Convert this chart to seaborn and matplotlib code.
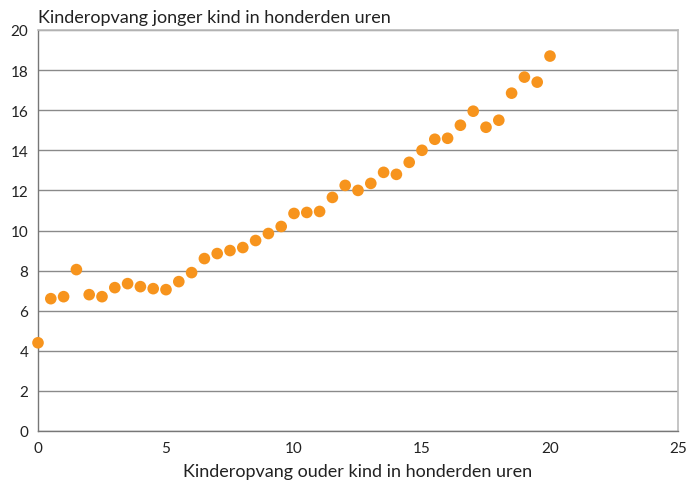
import matplotlib
matplotlib.use("Agg")
import matplotlib.pyplot as plt
import seaborn as sns
import pandas as pd

x_values = [0, 0.5, 1, 1.5, 2, 2.5, 3, 3.5, 4, 4.5, 5, 5.5, 6, 6.5, 7, 7.5, 8, 8.5, 9, 9.5,
            10, 10.5, 11, 11.5, 12, 12.5, 13, 13.5, 14, 14.5, 15, 15.5, 16, 16.5, 17, 17.5,
            18, 18.5, 19, 19.5, 20]
y_values = [4.4, 6.6, 6.7, 8.05, 6.8, 6.7, 7.15, 7.35, 7.2, 7.1, 7.05, 7.45, 7.9, 8.6,
            8.85, 9.0, 9.15, 9.5, 9.85, 10.2, 10.85, 10.9, 10.95, 11.65, 12.25, 12.0, 12.35,
            12.9, 12.8, 13.4, 14.0, 14.55, 14.6, 15.25, 15.95, 15.15, 15.5, 16.85, 17.65,
            17.4, 18.7]
x_ticks = [0, 5, 10, 15, 20, 25]
y_ticks = [0, 2, 4, 6, 8, 10, 12, 14, 16, 18, 20]
title = "Kinderopvang jonger kind in honderden uren"
xlabel = "Kinderopvang ouder kind in honderden uren"

sns.set_style("white")
plt.rcParams['font.family'] = ['Lato', 'DejaVu Sans']

df = pd.DataFrame({"x": x_values, "y": y_values})
fig = plt.figure(figsize=(6.86, 4.85), dpi=100)
ax = fig.add_axes([38/686, 53/485, 640/686, 401/485])
sns.scatterplot(data=df, x="x", y="y", ax=ax, color="#F7941D", s=70, edgecolor="none",
                zorder=3, clip_on=False)

ax.set_xlim(0, 25)
ax.set_ylim(0, 20)
ax.set_xticks(x_ticks)
ax.set_yticks(y_ticks)
ax.yaxis.grid(True, color="#8a8a8a", linewidth=1.0)
ax.xaxis.grid(False)
for s in ["left", "bottom"]:
    ax.spines[s].set_color("#777777")
    ax.spines[s].set_linewidth(1.0)
for s in ["top", "right"]:
    ax.spines[s].set_color("#bbbbbb")
    ax.spines[s].set_linewidth(1.2)
ax.tick_params(axis="both", direction="out", length=5, width=1, color="#777777",
               labelsize=11, labelcolor="#222222", pad=2)
ax.set_xlabel(xlabel, fontsize=13, color="#222222", labelpad=6)
ax.set_ylabel("")
fig.text(38/686, 1 - 18/485, title, fontsize=13, color="#222222", ha="left", va="center")

fig.savefig("out.png", dpi=100)
